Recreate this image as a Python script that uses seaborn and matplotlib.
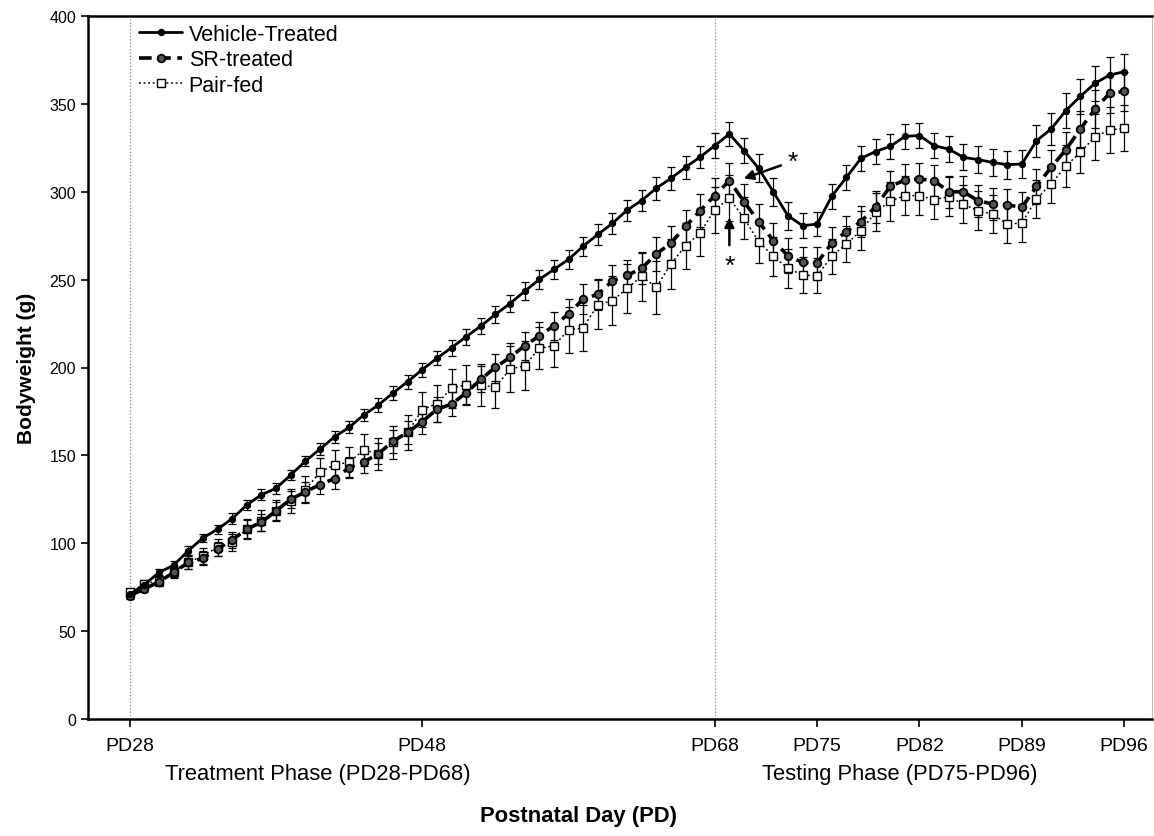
import matplotlib
matplotlib.use("Agg")
import matplotlib.pyplot as plt
import seaborn as sns
import numpy as np
import pandas as pd

days = list(range(28, 97))

vehicle = [71, 76.5, 83.4, 87.5, 95.8, 103, 108, 114, 121.8, 127.6,
           131.3, 138.8, 146.7, 153.6, 160.5, 166, 173, 178.7, 185.5, 192,
           198.8, 205.2, 211.3, 217.5, 223.6, 230.2, 236.4, 243.4, 250.1, 255.8,
           261.5, 269, 275.7, 282, 289.5, 295, 302, 307.6, 313.9, 319.8,
           326.2, 332.9, 323.4, 313.3, 300, 286.4, 280.7, 281.6, 297.4, 308.2,
           319, 322.9, 325.8, 331.5, 332, 326.2, 324.3, 319.6, 318.3, 316.7,
           315.4, 315.8, 329, 335.7, 346.1, 354.3, 361.7, 366.4, 368.3]
sr_treated = [70.2, 74, 78.1, 83.4, 89.1, 91.4, 96.7, 102, 108.1, 111.9,
              118.5, 125, 129.2, 133.4, 136.8, 143, 146.2, 151, 158, 163.1,
              169.2, 176.2, 179.2, 185.5, 193.3, 200.1, 205.8, 212.4, 217.9, 223.8,
              230.4, 239, 241.6, 249.3, 252.4, 256.4, 264.6, 270.8, 280.3, 289.2,
              297.8, 306.3, 294.4, 283, 272.2, 263.6, 259.8, 259.5, 270.8, 277.3,
              283, 291.5, 303, 306.7, 307.3, 306.3, 300, 300, 294.9, 293,
              292.6, 291.1, 303, 313.9, 323.8, 335.7, 347.1, 356, 357.1]
pair_fed = [72.1, 76.8, 78.7, 83.8, 89.1, 92.9, 97.6, 100.5, 108.1, 112.8,
            118.5, 124, 130.5, 140.3, 144.8, 146, 153.2, 150.8, 157.4, 163.1,
            176, 179.5, 188.2, 190.3, 190, 188.7, 199.1, 201, 210.9, 212.4,
            221.4, 222.5, 235.8, 238, 245, 251.9, 245.6, 258.9, 269.3, 276.5,
            289.8, 296.3, 285, 271.6, 263.3, 256.4, 252.6, 252.2, 263.3, 270.3,
            277.8, 288.5, 294.6, 297.8, 297.8, 295.5, 297.2, 293, 289.2, 287.3,
            281.6, 282.2, 295.9, 304.4, 314.5, 322.4, 331.3, 335.1, 336.1]

vehicle_err = [2, 2, 2, 2.5, 2.5, 2.5, 2.5, 3, 3, 3,
               3, 3, 3, 3.5, 3.5, 3.5, 3.5, 4, 4, 4,
               4, 4, 4.5, 4.5, 4.5, 5, 5, 5, 5.5, 5.5,
               5.5, 5.5, 6, 6, 6, 6, 6.5, 6.5, 6.5, 6.5,
               7, 7, 7, 8, 8, 8, 7, 7, 7, 7,
               7, 7, 7, 7, 7, 7, 7.5, 7.5, 7.5, 7.5,
               8, 8, 9, 9, 10, 10, 10, 10, 10]
sr_err = [2, 2, 2.5, 3, 3.5, 4, 4, 4.5, 5, 5,
          5, 5, 5.5, 5.5, 6, 6, 6, 6, 6.5, 6.5,
          7, 7, 7, 7, 7.5, 7.5, 8, 8, 8, 8,
          8.5, 8.5, 9, 9, 9, 9, 9.5, 9.5, 9.5, 9.5,
          10, 10, 10, 10, 10, 10, 9, 9, 9, 9,
          9, 9, 9, 9, 9, 9, 9, 9, 9, 9,
          9, 9, 10, 10, 10, 10, 11, 11, 11]
pf_err = [2, 2.5, 3, 3, 4, 4.5, 5, 5, 5.5, 6,
          6, 7, 7.5, 8, 8, 8.5, 9, 9, 9.5, 10,
          10, 10.5, 11, 11, 12, 12, 13, 14, 12, 12,
          13, 13, 14, 14, 14, 14, 15, 14, 13, 13,
          13, 13, 12, 12, 11, 11, 10, 10, 10, 10,
          11, 11, 11, 11, 11, 11, 11, 11, 11, 11,
          11, 11, 11, 11, 12, 12, 13, 13, 13]

series_names = ["Vehicle-Treated", "SR-treated", "Pair-fed"]
tick_days = [28, 48, 68, 75, 82, 89, 96]
tick_labels = ["PD28", "PD48", "PD68", "PD75", "PD82", "PD89", "PD96"]

df = pd.concat([
    pd.DataFrame({"day": days, "bw": vehicle, "err": vehicle_err, "group": series_names[0]}),
    pd.DataFrame({"day": days, "bw": sr_treated, "err": sr_err, "group": series_names[1]}),
    pd.DataFrame({"day": days, "bw": pair_fed, "err": pf_err, "group": series_names[2]}),
], ignore_index=True)

sns.set_theme(style="ticks")
plt.rcParams["font.family"] = ["Liberation Sans", "DejaVu Sans"]
for k in ("text.color", "axes.labelcolor", "xtick.color", "ytick.color", "axes.edgecolor"):
    plt.rcParams[k] = "black"

fig = plt.figure(figsize=(11.54, 8.37), dpi=100)
ax = fig.add_axes([88 / 1154, 1 - 720 / 837, 1064 / 1154, 703 / 837])

styles = {
    "Vehicle-Treated": dict(linestyle="-", linewidth=2.0, marker="o", markersize=4.5,
                            markerfacecolor="black", markeredgecolor="black", zorder=5),
    "SR-treated": dict(linestyle=(0, (3.5, 1.8)), linewidth=2.6, marker="o", markersize=5.5,
                       markerfacecolor="#555555", markeredgecolor="black", markeredgewidth=1.3, zorder=4),
    "Pair-fed": dict(linestyle=(0, (1.2, 1.8)), linewidth=1.1, marker="s", markersize=5.5,
                     markerfacecolor="white", markeredgecolor="black", markeredgewidth=1.0, zorder=3),
}

for name in series_names:
    sub = df[df["group"] == name]
    ax.errorbar(sub["day"], sub["bw"], yerr=sub["err"], fmt="none", ecolor="black",
                elinewidth=0.9, capsize=3, capthick=0.9, zorder=2)
    sns.lineplot(data=sub, x="day", y="bw", ax=ax, color="black", label=name,
                 errorbar=None, **styles[name])

for d in (28, 68):
    ax.axvline(d, color="#888888", linestyle=":", linewidth=0.9, zorder=1)

ax.set_xlim(25.14, 97.9)
ax.set_ylim(0, 400)
ax.set_xticks(tick_days)
ax.set_xticklabels(tick_labels, fontsize=14)
ax.set_yticks(range(0, 401, 50))
ax.tick_params(axis="y", labelsize=11.5, length=5, width=1.2, direction="out")
ax.tick_params(axis="x", length=6, width=1.2, direction="out", pad=7)
for sp in ax.spines.values():
    sp.set_linewidth(1.8)
    sp.set_color("black")
ax.spines["right"].set_linewidth(0.8)
ax.spines["right"].set_color("#bbbbbb")

ax.set_xlabel("")
ax.set_ylabel("Bodyweight (g)", fontsize=15, fontweight="bold", labelpad=10)

fig.text(165 / 1154, 1 - 775 / 837, "Treatment Phase (PD28-PD68)", ha="left", va="center", fontsize=15.8)
fig.text(762 / 1154, 1 - 775 / 837, "Testing Phase (PD75-PD96)", ha="left", va="center", fontsize=15.8)
fig.text(578 / 1154, 1 - 817 / 837, "Postnatal Day (PD)", ha="center", va="center", fontsize=15.8, fontweight="bold")

# annotations (asterisks with arrows)
ax.annotate("", xy=(69.8, 307), xytext=(72.7, 315.5),
            arrowprops=dict(arrowstyle="-|>", color="black", lw=1.8, mutation_scale=14))
ax.text(73.3, 317, "*", fontsize=19, ha="center", va="center")
ax.annotate("", xy=(69.0, 287), xytext=(69.0, 268),
            arrowprops=dict(arrowstyle="-|>", color="black", lw=1.8, mutation_scale=14))
ax.text(69.0, 258, "*", fontsize=19, ha="center", va="center")

leg = ax.legend(loc="upper left", bbox_to_anchor=(0.04, 1.001), frameon=False,
                fontsize=15.5, handlelength=2.0, handletextpad=0.3, labelspacing=0.2,
                borderaxespad=0)

fig.savefig("out.png", dpi=100, facecolor="white")
